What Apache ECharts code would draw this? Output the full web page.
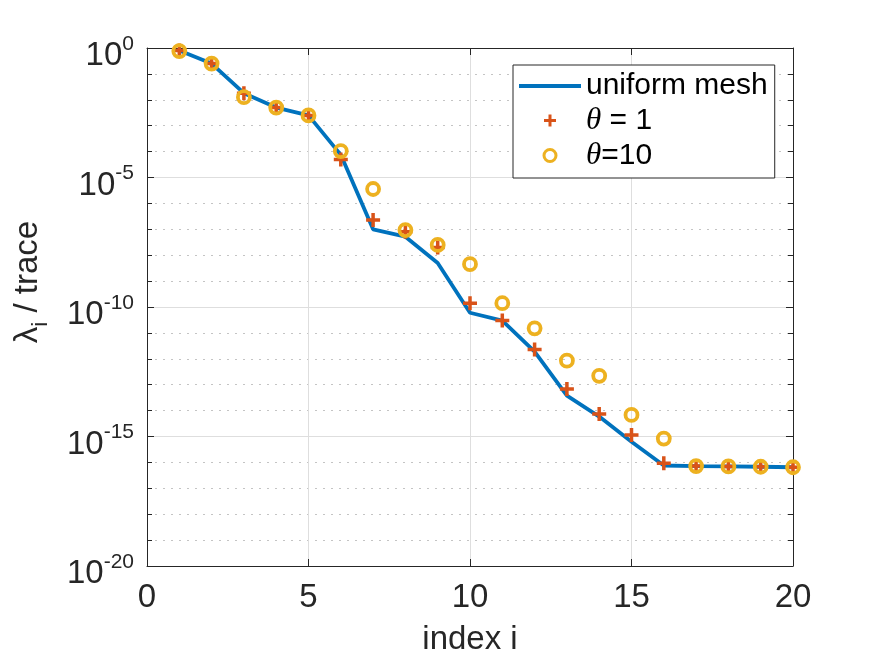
<!DOCTYPE html>
<html>
<head>
<meta charset="utf-8">
<script src="https://cdn.jsdelivr.net/npm/echarts@6/dist/echarts.min.js"></script>
<style>
  html, body { margin: 0; padding: 0; background: #fff; }
  #chart { width: 875px; height: 657px; }
</style>
</head>
<body>
<div id="chart"></div>
<script>
// index i
const indices = [1, 2, 3, 4, 5, 6, 7, 8, 9, 10, 11, 12, 13, 14, 15, 16, 17, 18, 19, 20]
// lambda_i / trace
const uniformMesh = [0.8, 0.25, 0.018, 5e-3, 2.5e-3, 7.5e-5, 1e-7, 5.2e-8, 5e-9, 6e-11,
  3e-11, 1.9e-12, 3.8e-14, 5.9e-15, 6.3e-16, 7.6e-17, 7.2e-17, 7e-17, 6.8e-17, 6.5e-17]
const theta1 = [0.8, 0.25, 0.018, 5e-3, 2.5e-3, 5e-5, 2.3e-7, 8e-8, 2e-8, 1.4e-10,
  3e-11, 2.3e-12, 6.8e-14, 7.4e-15, 1.15e-15, 9.3e-17, 7.2e-17, 7e-17, 6.8e-17, 6.5e-17]
const theta10 = [0.76, 0.25, 0.0126, 5e-3, 2.5e-3, 1.05e-4, 3.6e-6, 9.3e-8, 2.5e-8, 4.5e-9,
  1.4e-10, 1.5e-11, 8.5e-13, 2.2e-13, 6.8e-15, 8.3e-16, 7.2e-17, 7e-17, 6.8e-17, 6.5e-17]
const xTicks = [0, 5, 10, 15, 20]
// y axis drawn in decades (exponent of 10)
const yExpTicks = [-20, -15, -10, -5, 0]

// the y axis is a decade axis: plot log10 of each value
const pairs = vals => vals.map((v, i) => [indices[i], Math.log10(v)])

const axisColor = '#262626'
const font = 'Liberation Sans'

const myChart = echarts.init(document.getElementById('chart'))
const option = {
  animation: false,
  backgroundColor: '#fff',
  textStyle: { fontFamily: font },
  grid: { left: 147, right: 82, top: 48, bottom: 91, outerBoundsMode: 'none', containLabel: false },
  legend: {
    orient: 'vertical',
    left: 513,
    top: 65,
    padding: [6, 7, 7, 6],
    itemWidth: 62,
    itemHeight: 12,
    itemGap: 4,
    borderColor: '#262626',
    borderWidth: 1,
    backgroundColor: '#fff',
    textStyle: {
      fontFamily: font,
      fontSize: 30,
      lineHeight: 30,
      color: '#000',
      rich: {
        it: { fontFamily: 'Liberation Serif', fontStyle: 'italic', fontSize: 31, lineHeight: 30, color: '#000' }
      }
    },
    formatter: name => name.charAt(0) === 'θ' ? '{it|θ}' + name.slice(1) : name,
    data: [
      { name: 'uniform mesh', icon: 'path://M0,0H62V4H0Z' },
      { name: 'θ = 1' },
      { name: 'θ=10', itemStyle: { borderWidth: 3 } }
    ]
  },
  xAxis: [
    {
      type: 'value',
      min: xTicks[0],
      max: xTicks[xTicks.length - 1],
      interval: 5,
      name: 'index i',
      nameLocation: 'middle',
      nameGap: 57,
      nameTextStyle: { fontSize: 33, color: axisColor, fontFamily: font },
      axisLine: { show: true, onZero: false, lineStyle: { color: axisColor, width: 1 } },
      axisTick: { show: true, inside: true, length: 7, lineStyle: { color: axisColor } },
      axisLabel: { fontSize: 33, color: axisColor, margin: 15, fontFamily: font },
      splitLine: { show: true, lineStyle: { color: '#dedede', width: 1 } }
    },
    {
      // top border of the box
      type: 'value',
      position: 'top',
      min: xTicks[0],
      max: xTicks[xTicks.length - 1],
      interval: 5,
      axisLine: { show: true, onZero: false, lineStyle: { color: axisColor, width: 1 } },
      axisTick: { show: true, inside: true, length: 7, lineStyle: { color: axisColor } },
      axisLabel: { show: false },
      splitLine: { show: false }
    }
  ],
  yAxis: [
    {
      type: 'value',
      min: yExpTicks[0],
      max: yExpTicks[yExpTicks.length - 1],
      interval: 5,
      name: '{l|λ}{sub|i}{l| / trace}',
      nameLocation: 'middle',
      nameGap: 99,
      nameTextStyle: {
        color: axisColor,
        padding: [0, 0, 0, 50],
        rich: {
          l: { fontSize: 33, fontFamily: font, color: axisColor, lineHeight: 33, padding: [0, 0, 8, 0] },
          sub: { fontSize: 22, fontFamily: font, color: axisColor, lineHeight: 22, padding: [19, 0, 0, 0] }
        }
      },
      axisLine: { show: true, onZero: false, lineStyle: { color: axisColor, width: 1 } },
      axisTick: { show: true, inside: true, length: 7, lineStyle: { color: axisColor } },
      minorTick: { show: true, splitNumber: 5, length: 5, lineStyle: { color: axisColor } },
      axisLabel: {
        margin: 13,
        color: axisColor,
        formatter: v => '{b|10}{s|' + v + '}',
        rich: {
          b: { fontSize: 33, fontFamily: font, color: axisColor, lineHeight: 33, padding: [16, 0, 0, 0] },
          s: { fontSize: 21, fontFamily: font, color: axisColor, lineHeight: 21, padding: [10, 0, 18, 0] }
        }
      },
      splitLine: { show: true, lineStyle: { color: '#dedede', width: 1 } },
      minorSplitLine: { show: true, lineStyle: { color: '#c4c4c4', width: 1, type: [2, 6] } }
    },
    {
      type: 'value',
      position: 'right',
      min: yExpTicks[0],
      max: yExpTicks[yExpTicks.length - 1],
      interval: 5,
      axisLine: { show: true, onZero: false, lineStyle: { color: axisColor, width: 1 } },
      axisTick: { show: true, inside: true, length: 7, lineStyle: { color: axisColor } },
      minorTick: { show: true, splitNumber: 5, length: 5, lineStyle: { color: axisColor } },
      axisLabel: { show: false },
      splitLine: { show: false }
    }
  ],
  series: [
    {
      name: 'uniform mesh',
      type: 'line',
      data: pairs(uniformMesh),
      symbol: 'none',
      lineStyle: { color: '#0072BD', width: 3.8 },
      itemStyle: { color: '#0072BD' },
      z: 2
    },
    {
      name: 'θ = 1',
      type: 'scatter',
      data: pairs(theta1),
      symbol: 'path://M3,0H5V3H8V5H5V8H3V5H0V3H3Z',
      symbolSize: 14,
      itemStyle: { color: '#D95319', opacity: 1 },
      z: 3
    },
    {
      name: 'θ=10',
      type: 'scatter',
      data: pairs(theta10),
      symbol: 'circle',
      symbolSize: 12,
      itemStyle: { color: 'rgba(0,0,0,0)', borderColor: '#EDB120', borderWidth: 3.8, opacity: 1 },
      z: 4
    }
  ]
}
myChart.setOption(option)
</script>
</body>
</html>
